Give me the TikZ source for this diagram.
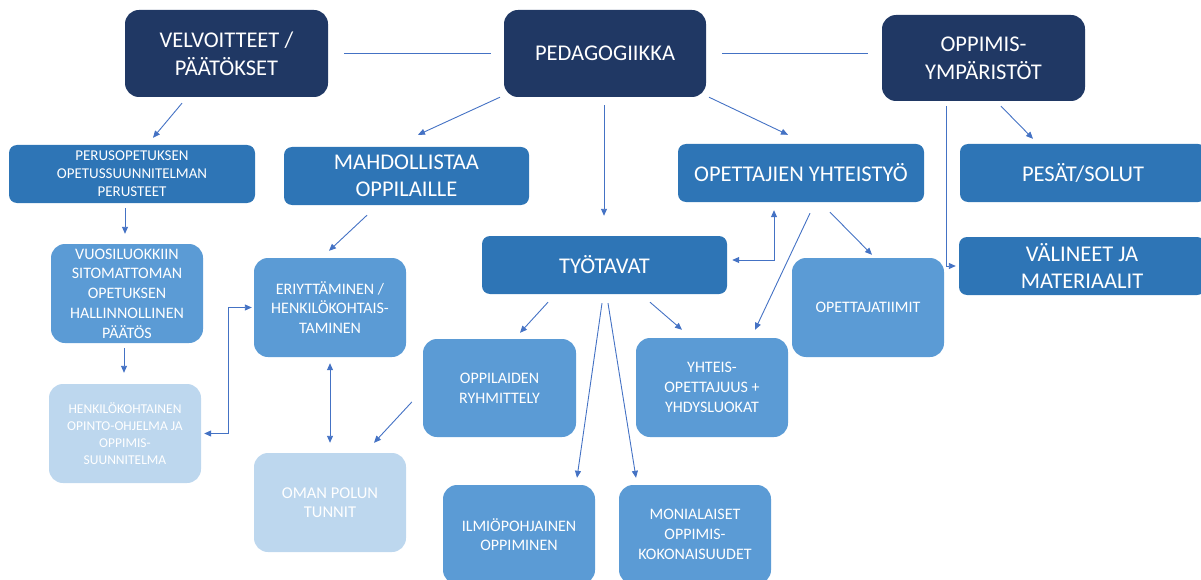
\documentclass[tikz,border=0pt]{standalone}
\usepackage{fontspec}
\setmainfont{Carlito}
\usetikzlibrary{arrows.meta,calc}
\definecolor{navy}{HTML}{203864}
\definecolor{medblue}{HTML}{2E75B6}
\definecolor{lightblue}{HTML}{5B9BD5}
\definecolor{paleblue}{HTML}{BDD7EE}
\definecolor{linecol}{HTML}{4472C4}
\tikzset{
  box/.style={rectangle, text=white, align=center, inner sep=0pt},
  darkbox/.style={box, fill=navy, rounded corners=14pt, minimum width=203pt, minimum height=87pt, font=\fontsize{22.5}{28}\selectfont},
  medbox/.style={box, fill=medblue, rounded corners=8pt, minimum width=246pt, minimum height=58pt, font=\fontsize{22.5}{27}\selectfont},
  lightbox/.style={box, fill=lightblue, rounded corners=14pt, minimum width=152pt, minimum height=99pt, font=\fontsize{16}{19.7}\selectfont},
  palebox/.style={box, fill=paleblue, rounded corners=14pt, minimum width=152pt, minimum height=99pt, font=\fontsize{16}{19.5}\selectfont},
  conn/.style={draw=linecol, line width=0.9pt},
  arr/.style={conn, -{Triangle[length=7pt,width=6pt]}},
  arrb/.style={conn, {Triangle[length=7pt,width=6pt]}-{Triangle[length=7pt,width=6pt]}},
}
\begin{document}
\begin{tikzpicture}[x=1pt,y=-1pt]
\useasboundingbox (0,0) rectangle (1201,580);
% top row
\node[darkbox] (velv) at (226.5,53.5) {VELVOITTEET /\\PÄÄTÖKSET};
\node[darkbox, minimum width=202pt] (ped) at (605,53.5) {PEDAGOGIIKKA};
\node[darkbox, minimum height=86pt] (oppym) at (983.5,58) {OPPIMIS-\\YMPÄRISTÖT};
% second row
\node[medbox, font=\fontsize{15}{18}\selectfont] (perus) at (132,174) {PERUSOPETUKSEN\\OPETUSSUUNNITELMAN\\PERUSTEET};
\node[medbox, minimum width=245pt] (mahd) at (406.5,176) {MAHDOLLISTAA\\OPPILAILLE};
\node[medbox] (opyht) at (801,173) {OPETTAJIEN YHTEISTYÖ};
\node[medbox] (pesat) at (1083,173) {PESÄT/SOLUT};
\node[medbox, minimum width=245pt] (tyot) at (604.5,265) {TYÖTAVAT};
\node[medbox] (valin) at (1082,266) {VÄLINEET JA\\MATERIAALIT};
% light boxes
\node[lightbox] (vuosi) at (127,293.5) {VUOSILUOKKIIN\\SITOMATTOMAN\\OPETUKSEN\\HALLINNOLLINEN\\PÄÄTÖS};
\node[lightbox] (eriy) at (330,307.5) {ERIYTTÄMINEN /\\HENKILÖKOHTAIS-\\TAMINEN};
\node[lightbox] (tiimit) at (868,307.5) {OPETTAJATIIMIT};
\node[lightbox, minimum width=153pt, minimum height=98pt] (ryhm) at (499.5,388) {OPPILAIDEN\\RYHMITTELY};
\node[lightbox] (yhteis) at (712,387.5) {YHTEIS-\\OPETTAJUUS +\\YHDYSLUOKAT};
\node[palebox, font=\fontsize{13.5}{17}\selectfont] (henk) at (125,433.5) {HENKILÖKOHTAINEN\\OPINTO-OHJELMA JA\\OPPIMIS-\\SUUNNITELMA};
\node[palebox, font=\fontsize{16.5}{19.5}\selectfont] (oman) at (330,502.5) {OMAN POLUN\\TUNNIT};
\node[lightbox] (ilmio) at (519,534.5) {ILMIÖPOHJAINEN\\OPPIMINEN};
\node[lightbox] (moni) at (695,534.5) {MONIALAISET\\OPPIMIS-\\KOKONAISUUDET};
% connectors
\draw[conn] ($(velv.east)+(16,0)$) -- ($(ped.west)+(-13,0)$);
\draw[conn] ($(ped.east)+(16,0)$) -- ($(oppym.west |- ped.east)+(-14,0)$);
\draw[arr] ($(velv.south)+(-44.5,6)$) -- ($(perus.north)+(21,-7)$);
\draw[arr] ($(perus.south)+(-7,5)$) -- ($(vuosi.north)+(-2,-10)$);
\draw[arr] ($(vuosi.south)+(-3,5)$) -- ($(henk.north)+(-1,-11)$);
\draw[arr] ($(ped.south)+(-105,0)$) -- ($(mahd.north)+(11.5,-12)$);
\draw[arr] ($(ped.south)+(-1,8)$) -- ($(tyot.north)+(-0.5,-20)$);
\draw[arr] ($(ped.south)+(104,0)$) -- ($(opyht.north)+(-13,-9)$);
\draw[arr] ($(oppym.south)+(17.5,5)$) -- ($(pesat.north)+(-50,-5)$);
\draw[arr] ($(oppym.south)+(-37.5,5)$) |- ($(valin.west)+(-3,0)$);
\draw[arr] ($(mahd.south)+(-39.5,10)$) -- ($(eriy.north)+(-1,-7)$);
\draw[arrb] ($(henk.east)+(3,0)$) -- ++(24,0) |- ($(eriy.west)+(-2,0)$);
\draw[arrb] ($(eriy.south)+(0,6)$) -- ($(oman.north)+(0,-10)$);
\draw[arr] ($(ryhm.west)+(-11,14)$) -- ($(oman.north)+(44,-10)$);
\draw[arr] ($(tyot.south)+(-56.5,8)$) -- ($(ryhm.north)+(20.5,-6)$);
\draw[arr] ($(tyot.south)+(-2.5,9)$) -- ($(ilmio.north)+(58,-7)$);
\draw[arr] ($(tyot.south)+(3.5,9)$) -- ($(moni.north)+(-59,-7)$);
\draw[arr] ($(tyot.south)+(45.5,8)$) -- ($(yhteis.north)+(-30,-8)$);
\draw[arrb] ($(tyot.east)+(5,-5)$) -| ($(opyht.south)+(-27,8)$);
\draw[arr] ($(opyht.south)+(9,11)$) -- ($(yhteis.north)+(43,-8)$);
\draw[arr] ($(opyht.south)+(29,10)$) -- ($(tiimit.north)+(4,-3)$);
\end{tikzpicture}
\end{document}
